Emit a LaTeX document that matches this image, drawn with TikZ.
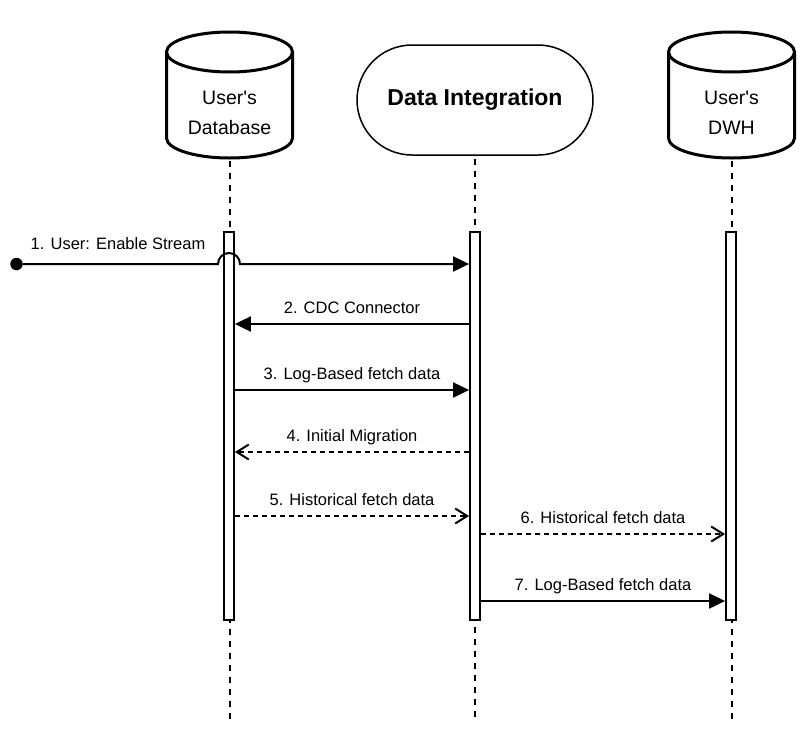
\documentclass[tikz,border=0pt]{standalone}
\usepackage{fontspec}
\setmainfont{Liberation Sans}
\usetikzlibrary{arrows.meta,calc}

\begin{document}
\begin{tikzpicture}[x=1pt,y=-1pt,
  drum/.style={line width=3pt,line join=round},
  drumtext/.style={align=center,font=\fontsize{19.5}{30}\selectfont},
  lifeline/.style={line width=2pt,dash pattern=on 6pt off 6pt},
  bar/.style={draw,fill=white,line width=1.8pt,inner sep=0pt,minimum width=10pt,minimum height=388pt},
  syncmsg/.style={line width=2pt,-{Triangle[length=16pt,width=15pt]}},
  replymsg/.style={line width=2pt,dash pattern=on 5pt off 4pt,-{Straight Barb[length=12pt,width=15pt]}},
  msglabel/.style={anchor=base,font=\fontsize{16.5}{20}\selectfont},
  startdot/.style={circle,fill,inner sep=0pt,minimum size=12.5pt}]
\useasboundingbox (0,0) rectangle (802,728);
\foreach \cx/\name/\what in {229.5/db/Database,731.5/dwh/DWH} {
  \draw[drum] (\cx-63,52) -- (\cx-63,138) arc[start angle=180,end angle=0,x radius=63,y radius=20]
    -- (\cx+63,52) arc[start angle=0,end angle=-180,x radius=63,y radius=20] -- cycle;
  \draw[drum] (\cx-63,52) arc[start angle=180,end angle=0,x radius=63,y radius=20];
  \node[drumtext] (\name) at (\cx,113) {User\textquotesingle s\\\what};
  \coordinate (\name-foot) at (\cx,161);
  \coordinate (\name-end) at (\cx,720);
}
\node[draw,line width=1.5pt,rounded corners=55pt,minimum width=236pt,minimum height=110pt,
  font=\bfseries\fontsize{23}{27}\selectfont] (di) at (475,100) {Data Integration};
\coordinate (di-end) at (475,720);
\draw[lifeline] (db-foot) -- (db-end);
\draw[lifeline] ([yshift=-3pt]di.south) -- (di-end);
\draw[lifeline] (dwh-foot) -- (dwh-end);
\foreach \cx/\name in {229/dbbar,475/dibar,731/dwhbar} {
  \node[bar] (\name) at (\cx,426) {};
}
\node[startdot] (start) at (16.5,264) {};
\draw[syncmsg] (start) -- ($(dbbar.center |- start)+(-11,0)$) arc[start angle=180,end angle=360,radius=11]
  -- (dibar.west |- start);
\node[msglabel] (m1) at (118,249) {1. User: Enable Stream};
\draw[syncmsg] (dibar.west |- 0,324) -- (dbbar.east |- 0,324)
  node[msglabel,midway,yshift=11pt] (m2) {2. CDC Connector};
\draw[syncmsg] (dbbar.east |- 0,390) -- (dibar.west |- 0,390)
  node[msglabel,midway,yshift=11pt] (m3) {3. Log-Based fetch data};
\draw[replymsg] (dibar.west |- 0,452) -- (dbbar.east |- 0,452)
  node[msglabel,midway,yshift=11pt] (m4) {4. Initial Migration};
\draw[replymsg] (dbbar.east |- 0,516) -- (dibar.west |- 0,516)
  node[msglabel,midway,yshift=11pt] (m5) {5. Historical fetch data};
\draw[replymsg] (dibar.east |- 0,534) -- (dwhbar.west |- 0,534)
  node[msglabel,midway,yshift=11pt] (m6) {6. Historical fetch data};
\draw[syncmsg] (dibar.east |- 0,601) -- (dwhbar.west |- 0,601)
  node[msglabel,midway,yshift=11pt] (m7) {7. Log-Based fetch data};
\end{tikzpicture}
\end{document}
